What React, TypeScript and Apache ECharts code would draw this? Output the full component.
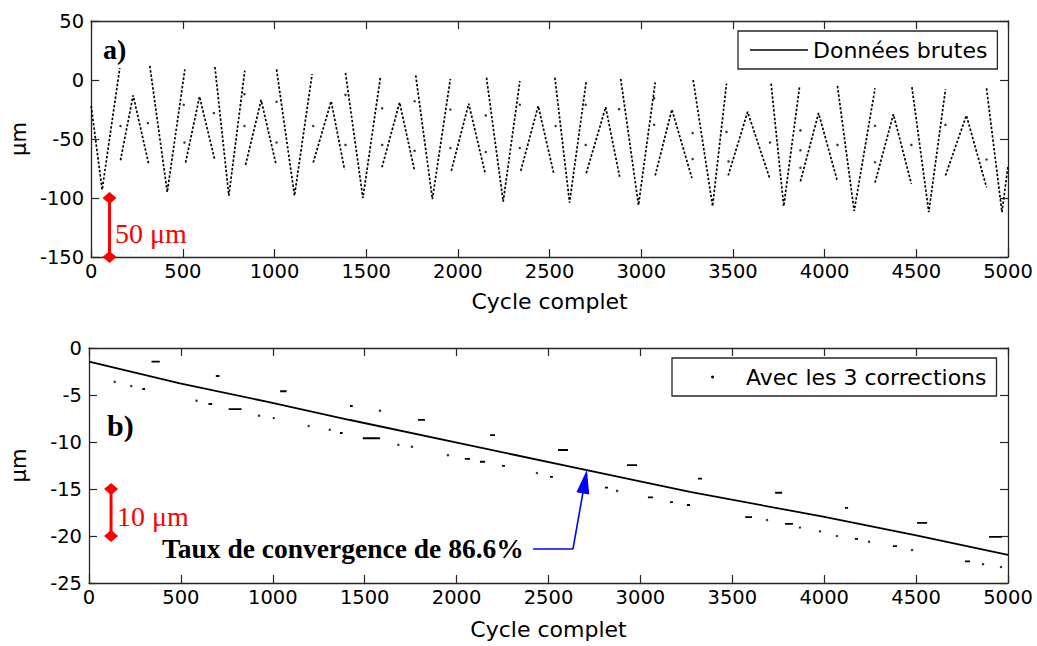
import React, { useEffect, useRef } from "react";
import * as echarts from "echarts";

// ---- Panel a) raw data: segments of V / Λ shapes (x = cycle, y = µm)
const rawSegments: number[][][] = [
  [[0, -22], [60, -93], [156, 10]],
  [[160, -68], [229, -13], [315, -72]],
  [[320, 12], [415, -95], [511, 9]],
  [[515, -70], [591, -14], [673, -67]],
  [[675, 11], [751, -98], [838, 8]],
  [[842, -72], [927, -17], [1009, -72]],
  [[1011, 9], [1109, -98], [1205, 5]],
  [[1211, -70], [1309, -18], [1382, -76]],
  [[1387, 6], [1482, -100], [1578, 3]],
  [[1586, -74], [1682, -19], [1764, -77]],
  [[1770, 4], [1861, -101], [1959, 1]],
  [[1964, -77], [2059, -20], [2150, -80]],
  [[2156, 2], [2247, -103], [2338, -1]],
  [[2343, -77], [2438, -22], [2524, -80]],
  [[2529, 2], [2609, -104], [2700, -1]],
  [[2700, -79], [2806, -23], [2882, -82]],
  [[2888, 1], [2985, -106], [3076, -2]],
  [[3076, -81], [3167, -25], [3276, -83]],
  [[3283, 0], [3389, -107], [3465, -3]],
  [[3474, -81], [3580, -27], [3702, -84]],
  [[3708, -3], [3777, -107], [3863, -6]],
  [[3868, -86], [3967, -28], [4070, -86]],
  [[4070, -5], [4161, -111], [4275, -7]],
  [[4275, -87], [4375, -29], [4473, -88]],
  [[4476, -6], [4568, -112], [4659, -8]],
  [[4659, -81], [4773, -30], [4883, -91]],
  [[4883, -7], [4967, -112], [5000, -73]],
];

// isolated raw points
const rawDots: number[][] = [
  [160, -39], [309, -36.5], [505, -21], [509, -53], [669, -28], [836, -12], [836, -39],
  [1011, -18.5], [1011, -53], [1211, -39], [1387, -12.6], [1387, -55], [1587, -24],
  [1587, -55], [1764, -18], [1764, -60], [1959, -25], [1959, -57.6], [2152, -30],
  [2152, -61], [2338, -21], [2338, -57.6], [2533, -39], [2697, -21], [2697, -55],
  [2879, -24.7], [3070, -38], [3070, -15.4], [3280, -45], [3280, -67], [3465, -44],
  [3476, -69], [3702, -53], [3868, -42.7], [3868, -59.6], [3868, -74.4], [4070, -55],
  [4275, -38.8], [4275, -69.7], [4473, -55], [4659, -38], [4883, -67.4],
];

// ---- Panel b) corrected data
const corrX = [0, 495, 967, 1420, 2708, 3270, 3994, 4494, 5000];
const corrY = [-1.46, -3.76, -5.71, -7.66, -13.0, -15.3, -17.95, -19.9, -22.0];

// short dashes [x1, x2, y]
const corrDashes: number[][] = [
  [340, 385, -1.46], [290, 305, -4.36], [650, 670, -5.96], [690, 710, -2.98],
  [760, 830, -6.5], [1000, 1010, -7.45], [1040, 1075, -4.6], [1365, 1380, -9.04],
  [1420, 1435, -6.17], [1490, 1583, -9.6], [1790, 1828, -7.65], [2045, 2073, -11.8],
  [2127, 2155, -12.1], [2182, 2209, -9.26], [2247, 2263, -12.55], [2508, 2524, -13.7],
  [2552, 2606, -10.85], [2807, 2824, -14.86], [2927, 2982, -12.45], [3041, 3068, -15.9],
  [3161, 3177, -16.4], [3253, 3270, -16.7], [3313, 3335, -13.9], [3570, 3607, -18.0],
  [3733, 3771, -15.4], [3787, 3830, -18.7], [4113, 4130, -17.0], [4167, 4184, -20.3],
  [4374, 4396, -21.07], [4505, 4560, -18.6], [4766, 4793, -22.7], [4897, 4967, -20.1],
];
const corrDots: number[][] = [
  [140, -3.6], [230, -4.05], [585, -5.6], [925, -7.2], [1195, -8.3], [1310, -8.7],
  [1583, -6.67], [1683, -10.3], [1757, -10.5], [1953, -11.4], [2437, -13.3],
  [2873, -15.2], [3689, -18.3], [3868, -19.1], [3977, -19.5], [4069, -20.0],
  [4244, -20.6], [4478, -21.5], [4864, -23.0], [4962, -23.3],
];

// scale bars
const scaleA = [[100, -100], [100, -150]];
const scaleB = [[120, -15], [120, -20]];
// arrow: text end, elbow, arrow-head centre
const arrowPts = [[2416, -21.4], [2633, -21.4], [2698, -14.2]];

const AX = "#262626";
const SANS = "DejaVu Sans";
const SERIF = "Liberation Serif";

function xAx(grid: number, pos: "bottom" | "top", nameGap: number) {
  const main = pos === "bottom";
  return {
    type: "value", gridIndex: grid, position: pos, min: 0, max: 5000, interval: 500,
    axisLine: { show: true, onZero: false, lineStyle: { color: AX, width: 1.3 } },
    axisTick: { show: true, inside: true, length: 8, lineStyle: { color: AX, width: 1.2 } },
    axisLabel: { show: main, margin: 4, color: "#000", fontSize: 19.5, fontFamily: SANS, formatter: (v: number) => String(v) },
    splitLine: { show: false },
    name: main ? "Cycle complet" : "",
    nameLocation: "middle", nameGap,
    nameTextStyle: { color: "#000", fontSize: 22, fontFamily: SANS },
  };
}
function yAx(grid: number, pos: "left" | "right", min: number, max: number, interval: number) {
  const main = pos === "left";
  return {
    type: "value", gridIndex: grid, position: pos, min, max, interval,
    axisLine: { show: true, onZero: false, lineStyle: { color: AX, width: 1.3 } },
    axisTick: { show: true, inside: true, length: 8, lineStyle: { color: AX, width: 1.2 } },
    axisLabel: { show: main, margin: 7, color: "#000", fontSize: 19.5, fontFamily: SANS, formatter: (v: number) => String(v) },
    splitLine: { show: false },
    name: main ? "μm" : "",
    nameLocation: "middle", nameGap: 60, nameRotate: 90,
    nameTextStyle: { color: "#000", fontSize: 21, fontFamily: SANS },
  };
}

export default function App() {
  const ref = useRef<HTMLDivElement>(null);
  useEffect(() => {
    if (!ref.current) return;
    const chart = echarts.init(ref.current, null, { renderer: "svg" });

    const rawData: any[] = [];
    rawSegments.forEach((seg) => {
      seg.forEach((p) => rawData.push([p[0], p[1]]));
      rawData.push([seg[seg.length - 1][0], null]);
    });
    const dashData: any[] = [];
    corrDashes.forEach((d) => {
      dashData.push([d[0], d[2]], [d[1], d[2]], [d[1], null]);
    });
    const corrData = corrX.map((x, i) => [x, corrY[i]]);

    const legendBase = {
      orient: "horizontal", itemGap: 0, selectedMode: false,
      borderColor: AX, borderWidth: 1.3, backgroundColor: "#fff",
    };

    chart.setOption({
      animation: false,
      backgroundColor: "#fff",
      grid: [
        { left: 89, top: 21, width: 919, height: 236 },
        { left: 89, top: 348, width: 919, height: 235 },
      ],
      xAxis: [xAx(0, "bottom", 33), xAx(0, "top", 0), xAx(1, "bottom", 35), xAx(1, "top", 0)],
      yAxis: [yAx(0, "left", -150, 50, 50), yAx(0, "right", -150, 50, 50), yAx(1, "left", -25, 0, 5), yAx(1, "right", -25, 0, 5)],
      legend: [
        {
          ...legendBase, left: 738, top: 31, padding: [8, 10, 8, 12],
          itemWidth: 58, itemHeight: 1.3,
          textStyle: { fontSize: 22, fontFamily: SANS, color: "#000" },
          data: [{ name: "Données brutes", icon: "rect" }],
        },
        {
          ...legendBase, left: 672, top: 358, padding: [8, 10, 8, 39],
          itemWidth: 3, itemHeight: 3,
          textStyle: { fontSize: 22, fontFamily: SANS, color: "#000", padding: [0, 0, 0, 27] },
          data: [{ name: "Avec les 3 corrections", icon: "circle" }],
        },
      ],
      series: [
        {
          name: "Données brutes", type: "line", xAxisIndex: 0, yAxisIndex: 0,
          data: rawData, symbol: "none", connectNulls: false, color: "#000",
          lineStyle: { color: "#000", width: 1.7, type: [2.5, 1.8] },
        },
        {
          name: "rawDots", type: "scatter", xAxisIndex: 0, yAxisIndex: 0,
          data: rawDots, symbolSize: 2.5, itemStyle: { color: "#000" },
        },
        {
          name: "scaleA", type: "line", xAxisIndex: 0, yAxisIndex: 0, data: scaleA,
          symbol: "diamond", symbolSize: [14, 12], showSymbol: true,
          lineStyle: { color: "#ff0000", width: 3 }, itemStyle: { color: "#ff0000" },
        },
        {
          name: "Avec les 3 corrections", type: "line", xAxisIndex: 2, yAxisIndex: 2,
          data: corrData, symbol: "none", color: "#000",
          lineStyle: { color: "#000", width: 1.8 },
          markLine: {
            silent: true, symbol: ["none", "triangle"], symbolSize: [13, 24],
            lineStyle: { color: "#0000ff", width: 1.6, type: "solid" },
            label: { show: false },
            data: [
              [{ coord: arrowPts[0], symbol: "none" }, { coord: arrowPts[1], symbol: "none" }],
              [{ coord: arrowPts[1], symbol: "none" }, { coord: arrowPts[2], symbol: "triangle" }],
            ],
          },
        },
        {
          name: "corrDashes", type: "line", xAxisIndex: 2, yAxisIndex: 2,
          data: dashData, symbol: "none", connectNulls: false,
          lineStyle: { color: "#000", width: 1.8 },
        },
        {
          name: "corrDots", type: "scatter", xAxisIndex: 2, yAxisIndex: 2,
          data: corrDots, symbolSize: 2.5, itemStyle: { color: "#000" },
        },
        {
          name: "scaleB", type: "line", xAxisIndex: 2, yAxisIndex: 2, data: scaleB,
          symbol: "diamond", symbolSize: [14, 12], showSymbol: true,
          lineStyle: { color: "#ff0000", width: 3 }, itemStyle: { color: "#ff0000" },
        },
      ],
      graphic: [
        { type: "text", x: 103, y: 49, style: { text: "a)", fill: "#000", font: `bold 28px "${SERIF}"`, verticalAlign: "middle" } },
        { type: "text", x: 107, y: 425, style: { text: "b)", fill: "#000", font: `bold 30px "${SERIF}"`, verticalAlign: "middle" } },
        { type: "text", x: 115, y: 233, style: { text: "50 μm", fill: "#ff0000", font: `28px "${SERIF}"`, verticalAlign: "middle" } },
        { type: "text", x: 117, y: 516, style: { text: "10 μm", fill: "#ff0000", font: `28px "${SERIF}"`, verticalAlign: "middle" } },
        { type: "text", x: 162, y: 548, style: { text: "Taux de convergence de 86.6%", fill: "#000", font: `bold 27.5px "${SERIF}"`, verticalAlign: "middle" } },
      ],
    });
    return () => chart.dispose();
  }, []);
  return (
    <div
      ref={ref}
      style={{ position: "fixed", left: 0, top: 0, width: 1037, height: 646, background: "#fff" }}
    />
  );
}
